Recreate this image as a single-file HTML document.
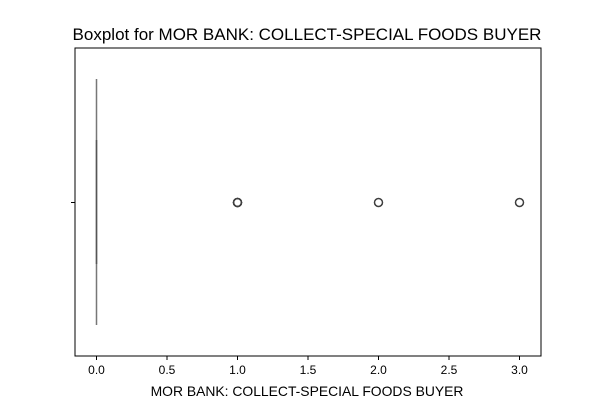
<!DOCTYPE html>
<html><head><meta charset="utf-8"><style>body{margin:0;background:#fff}svg{display:block;font-family:"Liberation Sans","DejaVu Sans",sans-serif}</style></head>
<body>
<svg id="chart" width="600" height="400" xmlns="http://www.w3.org/2000/svg">
<text x="307" y="40" font-size="17" text-anchor="middle">Boxplot for MOR BANK: COLLECT-SPECIAL FOODS BUYER</text>
<rect x="75" y="48" width="466" height="308" fill="none" stroke="#000" stroke-width="1"/>
<g id="xticks"></g>
<g id="marks"></g>
<line x1="71" x2="75" y1="202.5" y2="202.5" stroke="#000"/>
<text x="307" y="396" font-size="13.9" text-anchor="middle">MOR BANK: COLLECT-SPECIAL FOODS BUYER</text>
</svg>
<script>
const tickValues=[0,0.5,1,1.5,2,2.5,3];
const tickLabels=["0.0","0.5","1.0","1.5","2.0","2.5","3.0"];
const boxStats=[0,0,0,0,0]; // whiskerLow, q1, median, q3, whiskerHigh
const outliers=[1,1,1,2,3];
const NS="http://www.w3.org/2000/svg";
const xs=v=>96.5+v*141;
function mk(t,a,p){const e=document.createElementNS(NS,t);for(const k in a)e.setAttribute(k,a[k]);p.appendChild(e);return e;}
const xt=document.getElementById('xticks'),mg=document.getElementById('marks');
tickValues.forEach((v,i)=>{
 const l=mk('line',{x1:xs(v),x2:xs(v),y1:356,y2:360,stroke:'#000'},xt);
 
 
 const t=mk('text',{x:xs(v),y:374,'font-size':12,'text-anchor':'middle'},xt);
 t.textContent=tickLabels[i];
 
 
});
const w1=mk('line',{x1:xs(boxStats[0]),x2:xs(boxStats[1]),y1:202.5,y2:202.5,stroke:'#3f3f3f','stroke-width':1.5},mg);


const wl=mk('line',{x1:xs(boxStats[0]),x2:xs(boxStats[0]),y1:79,y2:325,stroke:'#777','stroke-width':1.5},mg);


const bx=mk('rect',{x:xs(boxStats[1])-0.75,y:140,width:Math.max(1.5,xs(boxStats[3])-xs(boxStats[1])+1.5),height:124,fill:'#555'},mg);


outliers.forEach(v=>{
 const c=mk('circle',{cx:xs(v),cy:202.5,r:4,fill:'none',stroke:'#3f3f3f','stroke-width':1.5},mg);
 
 
});
</script>
</body></html>
